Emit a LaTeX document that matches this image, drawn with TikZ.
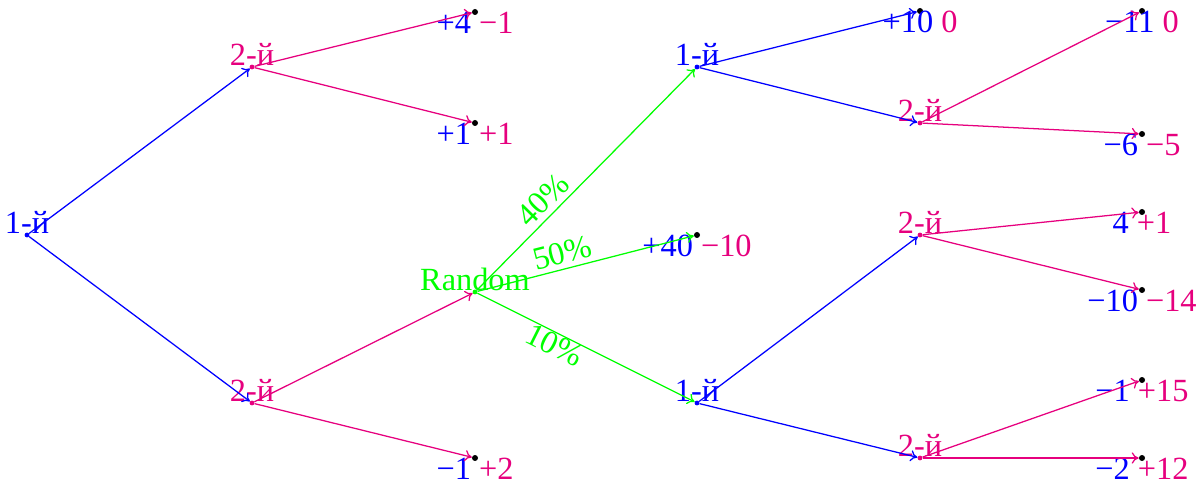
\documentclass[tikz,border=0pt]{standalone}
\usepackage{fontspec}
\setmainfont{Liberation Serif}
\usepackage{tikz}
\usetikzlibrary{arrows.meta, positioning}

\definecolor{pone}{RGB}{0,0,255}
\definecolor{ptwo}{RGB}{230,0,126}
\definecolor{chance}{RGB}{0,255,0}

\newcommand{\payoff}[2]{\textcolor{pone}{#1} \textcolor{ptwo}{#2}}

\begin{document}
\begin{tikzpicture}[
        x=0.025cm, y=-0.025cm,
        font=\fontsize{23pt}{27pt}\selectfont,
        knot1/.style={circle, fill=pone, inner sep=0pt, minimum size=0.12cm},
        knot2/.style={circle, fill=ptwo, inner sep=0pt, minimum size=0.12cm},
        knotc/.style={circle, fill=chance, inner sep=0pt, minimum size=0.12cm},
        leaf/.style={circle, fill=black, inner sep=0pt, minimum size=0.15cm},
        name1/.style={text=pone, anchor=base, inner sep=0pt, yshift=1.4pt},
        name2/.style={text=ptwo, anchor=base, inner sep=0pt, yshift=1.4pt},
        namec/.style={text=chance, anchor=base, inner sep=0pt, yshift=1.4pt},
        pay/.style={anchor=base, inner sep=0pt, yshift=-0.53cm},
        move/.style={line width=0.9pt, -{To[length=5pt, width=8pt]}},
        prob/.style={text=chance, sloped, inner sep=3.5pt}
    ]
    \useasboundingbox (0,0) rectangle (1201,484);

    % Decision nodes
    \node[knot1] (r) at (27,235) {};
    \node[knot2] (a) at (252,67) {};
    \node[knot2] (b) at (252,403) {};
    \node[knotc] (rnd) at (475,292) {};
    \node[knot1] (c) at (697,67) {};
    \node[knot1] (d) at (697,403) {};
    \node[knot2] (e) at (920,123) {};
    \node[knot2] (f) at (920,235) {};
    \node[knot2] (g) at (920,458) {};

    \node[name1] (rt) at (r) {1-й};
    \node[name2] (at) at (a) {2-й};
    \node[name2] (bt) at (b) {2-й};
    \node[namec] (rndt) at (rnd) {Random};
    \node[name1] (ct) at (c) {1-й};
    \node[name1] (dt) at (d) {1-й};
    \node[name2] (et) at (e) {2-й};
    \node[name2] (ft) at (f) {2-й};
    \node[name2] (gt) at (g) {2-й};

    % Leaves
    \node[leaf] (l1) at (475,12) {};
    \node[leaf] (l2) at (475,123) {};
    \node[leaf] (l3) at (475,458) {};
    \node[leaf] (l4) at (697,235) {};
    \node[leaf] (l5) at (920,11) {};
    \node[leaf] (l6) at (1142,11) {};
    \node[leaf] (l7) at (1142,134) {};
    \node[leaf] (l8) at (1142,212) {};
    \node[leaf] (l9) at (1142,290) {};
    \node[leaf] (l10) at (1142,380) {};
    \node[leaf] (l11) at (1142,458) {};

    % Payoffs
    \node[pay] (l1p) at (l1) {\payoff{+4}{−1}};
    \node[pay] (l2p) at (l2) {\payoff{+1}{+1}};
    \node[pay] (l3p) at (l3) {\payoff{−1}{+2}};
    \node[pay] (l4p) at (l4) {\payoff{+40}{−10}};
    \node[pay] (l5p) at (l5) {\payoff{+10}{0}};
    \node[pay] (l6p) at (l6) {\payoff{−11}{0}};
    \node[pay] (l7p) at (l7) {\payoff{−6}{−5}};
    \node[pay] (l8p) at (l8) {\payoff{4}{+1}};
    \node[pay] (l9p) at (l9) {\payoff{−10}{−14}};
    \node[pay] (l10p) at (l10) {\payoff{−1}{+15}};
    \node[pay] (l11p) at (l11) {\payoff{−2}{+12}};

    % Moves
    \draw[move, pone] (r) -- (a);
    \draw[move, pone] (r) -- (b);
    \draw[move, ptwo] (a) -- (l1);
    \draw[move, ptwo] (a) -- (l2);
    \draw[move, ptwo] (b) -- (rnd);
    \draw[move, ptwo] (b) -- (l3);
    \draw[move, chance] (rnd) -- node[prob, above, pos=0.355] {40\%} (c);
    \draw[move, chance] (rnd) -- node[prob, above, pos=0.41] {50\%} (l4);
    \draw[move, chance] (rnd) -- node[prob, below, pos=0.38, inner sep=0pt] {10\%} (d);
    \draw[move, pone] (c) -- (l5);
    \draw[move, pone] (c) -- (e);
    \draw[move, pone] (d) -- (f);
    \draw[move, pone] (d) -- (g);
    \draw[move, ptwo] (e) -- (l6);
    \draw[move, ptwo] (e) -- (l7);
    \draw[move, ptwo] (f) -- (l8);
    \draw[move, ptwo] (f) -- (l9);
    \draw[move, ptwo] (g) -- (l10);
    \draw[move, ptwo] (g) -- (l11);

\end{tikzpicture}
\end{document}
